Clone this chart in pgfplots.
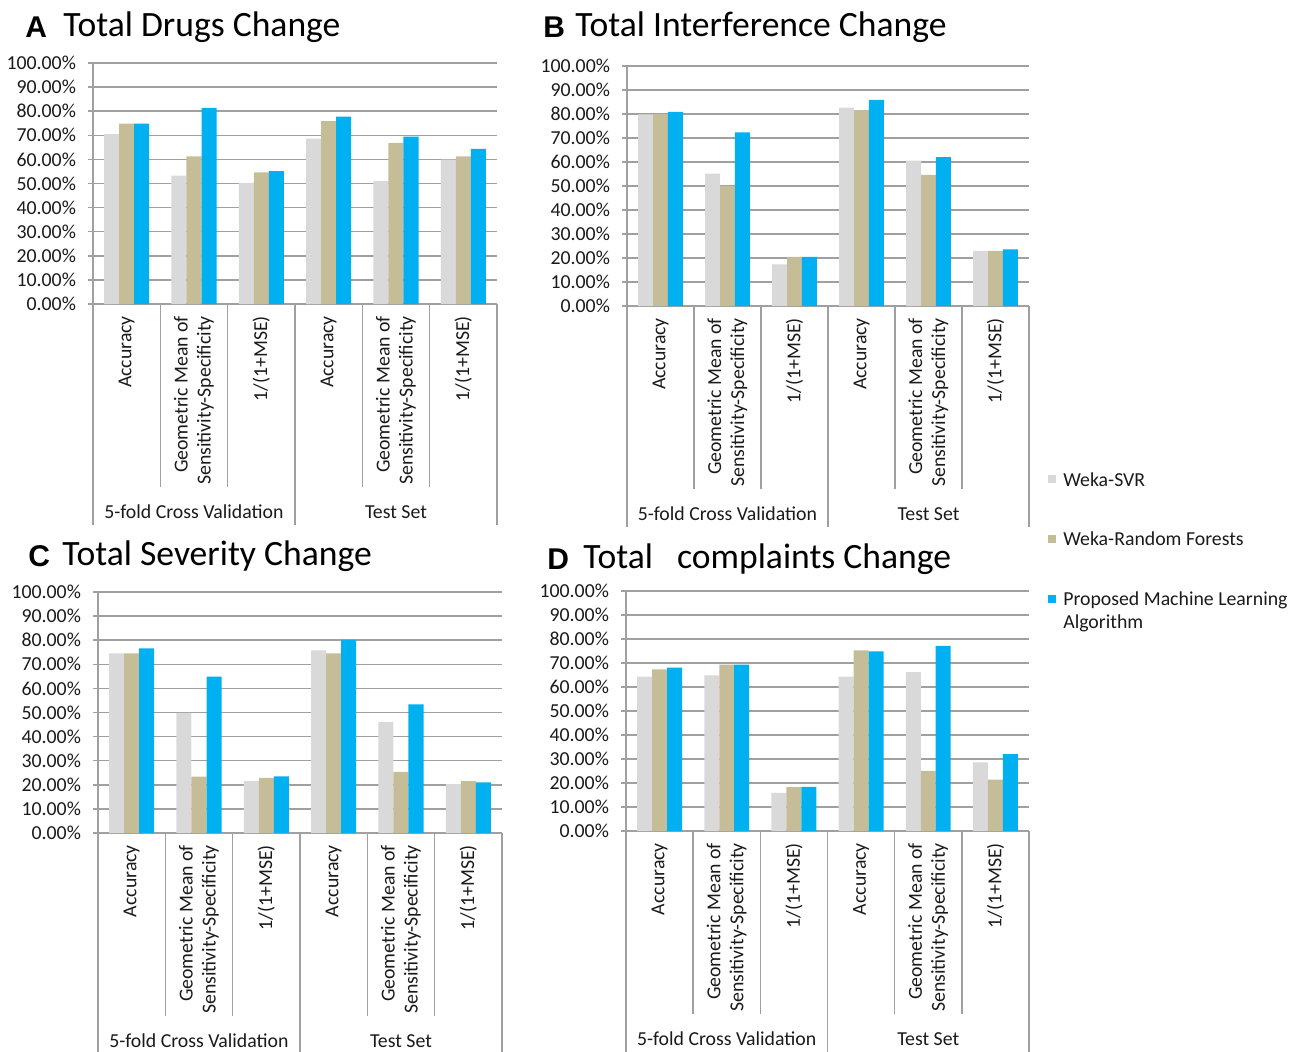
\documentclass[border=0pt]{standalone}
\usepackage{fontspec}
\setmainfont{Carlito}
\newfontfamily\arialfont{Liberation Sans}
\usepackage{pgfplots}
\pgfplotsset{compat=1.18}
\usepackage{pgfplotstable}

\definecolor{svr}{HTML}{D9D9D9}
\definecolor{rf}{HTML}{C4BD97}
\definecolor{pml}{HTML}{00B0F0}
\definecolor{gridgray}{HTML}{A0A0A0}
\definecolor{txt}{HTML}{1A1A1A}

\newcommand{\lab}{\fontsize{9.9}{11.5}\selectfont}
\newcommand{\ttl}{\fontsize{17.8}{20}\selectfont}
\newcommand{\letter}{\arialfont\bfseries\fontsize{15}{18}\selectfont}

% x: 0..2 = 5-fold CV, 3..5 = test set
\pgfplotstableread{
x svr rf pml
0 70.5 74.8 74.8
1 53.3 61.3 81.4
2 50.3 54.6 55.1
3 68.6 75.9 77.8
4 51.0 66.9 69.5
5 59.9 61.3 64.4
}\drugs
\pgfplotstableread{
x svr rf pml
0 79.8 80.0 80.9
1 55.2 50.1 72.4
2 17.4 20.5 20.5
3 82.7 81.6 85.9
4 60.6 54.6 62.0
5 23.0 23.0 23.6
}\interf
\pgfplotstableread{
x svr rf pml
0 74.5 74.5 76.6
1 49.9 23.4 64.9
2 21.5 22.9 23.5
3 75.8 74.5 80.1
4 46.0 25.4 53.4
5 20.3 21.5 21.0
}\sever
\pgfplotstableread{
x svr rf pml
0 64.3 67.4 68.1
1 64.9 69.3 69.3
2 15.9 18.3 18.4
3 64.3 75.3 74.8
4 66.2 25.1 77.1
5 28.6 21.4 32.0
}\compl

\tikzset{catsep/.style={gridgray, line width=0.75pt}}

\pgfplotsset{
  panel/.style={
    scale only axis, ybar, bar width=0.223, clip=false,
    xmin=-0.5, xmax=5.5, ymin=0, ymax=100, enlargelimits=false,
    axis x line=bottom, axis y line=left,
    axis line style={-, draw=gridgray, line width=0.75pt},
    ymajorgrids, grid style={gridgray, line width=0.75pt},
    ytick={0,10,...,100}, tick align=outside, major tick length=2.5pt,
    ytick style={draw=gridgray, line width=0.75pt},
    xtick={0,...,5}, xtick style={draw=none},
    xticklabels={Accuracy, {Geometric Mean of\\Sensitivity-Specificity}, 1/(1+MSE),
                 Accuracy, {Geometric Mean of\\Sensitivity-Specificity}, 1/(1+MSE)},
    xticklabel style={rotate=90, anchor=east, align=right, font=\lab, text=txt},
    yticklabel style={font=\lab, text=txt, xshift=-2.5pt},
    yticklabel={\pgfmathprintnumber[fixed,fixed zerofill,precision=2]{\tick}\%},
    /pgf/number format/assume math mode=true,
    every axis plot/.append style={draw=none},
  },
  sq legend/.style={legend image code/.code={\fill[##1] (0pt,1.5pt) rectangle (4pt,5.5pt);}},
}

\newcommand{\cats}{%
  \draw[catsep] (axis cs:-0.5,0) -- ++(0pt,-110.5pt);
  \draw[catsep] (axis cs:2.5,0) -- ++(0pt,-110.5pt);
  \draw[catsep] (axis cs:5.5,0) -- ++(0pt,-110.5pt);
  \draw[catsep] (axis cs:0.5,0) -- ++(0pt,-91.5pt);
  \draw[catsep] (axis cs:1.5,0) -- ++(0pt,-91.5pt);
  \draw[catsep] (axis cs:3.5,0) -- ++(0pt,-91.5pt);
  \draw[catsep] (axis cs:4.5,0) -- ++(0pt,-91.5pt);
  \node[font=\lab, text=txt] at (axis cs:1,0) [yshift=-104pt] {5-fold Cross Validation};
  \node[font=\lab, text=txt] at (axis cs:4,0) [yshift=-104pt] {Test Set};
}

\newcommand{\bars}[1]{%
  \addplot[fill=svr, bar shift=-0.223, sq legend] table[x=x, y=svr] {#1};
  \addplot[fill=rf,  bar shift=0,      sq legend] table[x=x, y=rf]  {#1};
  \addplot[fill=pml, bar shift=0.223,  sq legend] table[x=x, y=pml] {#1};
}

\begin{document}
\begin{tikzpicture}
\useasboundingbox (0,0) rectangle (646pt,-525.5pt);

% titles
\node[inner sep=0pt, anchor=base west, font=\letter] at (12.5pt,-18.5pt) {A};
\node[inner sep=0pt, anchor=base west, font=\ttl] at (31.5pt,-18pt) {Total Drugs Change};
\node[inner sep=0pt, anchor=base west, font=\letter] at (271.5pt,-18.5pt) {B};
\node[inner sep=0pt, anchor=base west, font=\ttl] at (287.5pt,-18pt) {Total Interference Change};
\node[inner sep=0pt, anchor=base west, font=\letter] at (14pt,-283pt) {C};
\node[inner sep=0pt, anchor=base west, font=\ttl] at (31pt,-282.5pt) {Total Severity Change};
\node[inner sep=0pt, anchor=base west, font=\letter] at (273.5pt,-284.5pt) {D};
\node[inner sep=0pt, anchor=base west, font=\ttl] at (291.5pt,-284pt) {Total\ \ \ complaints Change};

% A
\begin{axis}[panel, width=202pt, height=120.5pt, at={(46.5pt,-152pt)}, anchor=south west]
\bars{\drugs}
\cats
\end{axis}

% B (carries the legend)
\begin{axis}[panel, width=201pt, height=120pt, at={(313.5pt,-153pt)}, anchor=south west,
  legend style={at={(1.047,-0.675)}, anchor=north west, draw=none, fill=none,
    font=\lab, text=txt, row sep=17.5pt, inner sep=0pt,
    cells={anchor=base west},
    /tikz/every odd column/.append style={column sep=1.5pt}}]
\bars{\interf}
\cats
\legend{Weka-SVR, Weka-Random Forests,
  {\vtop{\hbox{Proposed Machine Learning}\hbox{Algorithm}}}}
\end{axis}

% C
\begin{axis}[panel, width=202pt, height=120.5pt, at={(49pt,-416.5pt)}, anchor=south west]
\bars{\sever}
\cats
\end{axis}

% D
\begin{axis}[panel, width=201.5pt, height=120pt, at={(313pt,-415.5pt)}, anchor=south west]
\bars{\compl}
\cats
\end{axis}
\end{tikzpicture}
\end{document}
